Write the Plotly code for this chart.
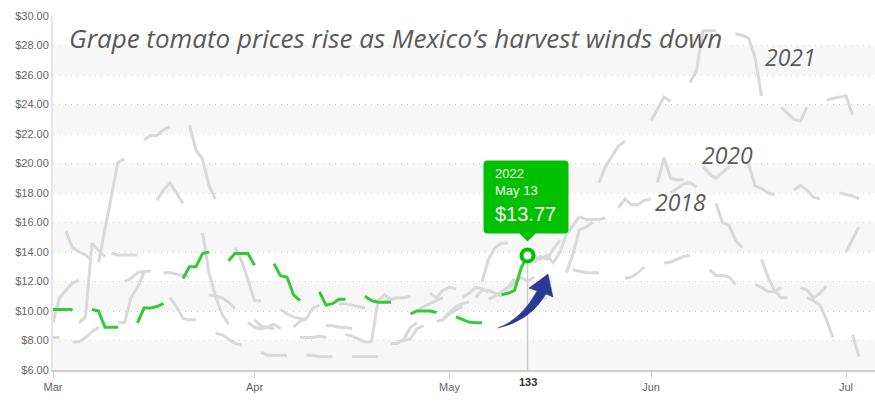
import pandas as pd
import plotly.graph_objects as go

# ---------------- data (weekday prices, $ per carton) ----------------
# each list = consecutive business days starting on the first weekday on/after Mar 1
prices_2018 = [
    8.2, 8.2,
    9.2, 9.6, 14.6, 14.1, 13.7,
    12.0, 12.2, 12.6, 12.7, 12.7,
    10.9, 10.3, 9.5, 9.4, 9.4,
    8.5, 8.4, 8.1, 7.8, 7.7,
    7.2, 7.0, 7.0, 7.0, 7.0,
    7.0, 7.0, 6.9, 6.9, 6.9,
    6.9, 6.9, 6.9, 6.9, 6.9,
    7.9, 8.0, 8.1, 8.8, 9.0,
    9.5, 9.9, 10.3, 10.5, 10.6,
    10.8, 11.0, 11.3, 11.6, 12.2,
    13.3, 13.7, 13.5, 14.2, 14.8,
    16.4, 16.2, 16.2, 16.2, 16.3,
    None, 17.2, 17.2, 17.5, 17.6,
    18.0, 18.3, 18.6, 18.7, 18.4,
    17.3, 16.0, 15.8, 14.8, 14.3,
    13.5, 12.3, 11.4, 10.9, 10.9,
    10.9, 10.7, 10.4, 9.4, 8.2,
    8.4, 6.9, None, 6.6,
]
prices_2019 = [
    8.2,
    7.9, 7.9, 8.2, 8.6, 8.9,
    9.2, 9.2, 10.9, 11.6, 12.6,
    12.6, 12.6, 12.5, 12.4, 12.3,
    11.1, 11.0, 10.9, 10.6, 10.2,
    9.4, 9.0, 8.9, 9.1, 8.8,
    8.2, 8.2, 8.2, 8.3, 8.2,
    8.4, 8.3, 8.1, 7.9, 7.9,
    7.8, 7.8, 8.1, 8.9, 9.2,
    9.3, 9.4, 9.8, 10.1, 10.3,
    12.0, 13.5, 14.3, 14.6, 14.6,
    14.0, 13.7, 13.5, 13.8, 13.2,
    12.8, 12.7, 12.6, 12.6, 12.6,
    None, 12.2, 12.3, 12.6, 13.0,
    13.25, 13.3, 13.5, 13.7, 13.8,
    12.8, 12.4, 12.4, 12.3, 11.8,
    11.8, 11.6, 11.3, 11.3, 11.6,
    11.6, 11.4, 10.9, 11.2, 11.7,
    14.0, 14.9, 15.7, None, 16.0,
]
prices_2020 = [
    15.4, 14.3, 14.0, 13.8, 13.4,
    13.9, 13.8, 13.8, 13.8, 13.8,
    17.5, 18.2, 18.7, 18.0, 17.3,
    15.3, 12.6, 11.0, 9.8, 9.1,
    9.2, 8.9, 8.8, 8.9, 8.8,
    8.9, 9.3, 9.5, 10.2, 10.4,
    10.5, 10.5, 10.4, 10.3, 10.2,
    10.6, 10.8, 10.9, 10.9, 11.0,
    11.2, 10.9, 11.4, 11.6, 11.5,
    10.9, 11.4, 11.4, 11.2, 11.0,
    9.6, 10.0, 10.5, 10.9, 10.9,
    12.6, 13.9, 15.5, 15.7, 16.0,
    None, 17.0, 17.6, 17.2, 17.2,
    18.7, 20.4, 19.0, 18.9, 18.9,
    19.8, 19.3, 19.0, 19.4, 19.8,
    20.0, 18.5, 18.3, 18.0, 17.9,
    18.2, 18.5, 18.2, 17.7, 17.6,
    18.0, 17.9, 17.8, 17.6, None,
]
prices_2021 = [
    9.2, 10.9, 11.4, 11.9, 12.1,
    13.3, 15.6, 18.0, 20.1, 20.3,
    21.6, 21.9, 21.9, 22.3, 22.5,
    22.6, 20.9, 20.3, 18.5, 17.6,
    14.3, 13.4, 12.1, 10.7, 10.7,
    10.1, 9.8, 9.6, 9.5, 9.4,
    9.0, 9.0, 8.9, 8.9, 8.8,
    7.9, 10.7, 11.1, 10.8, 10.9,
    10.0, 10.3, 10.5, 10.7, 10.9,
    10.9, 11.2, 11.6, 11.5, 11.3,
    11.5, 11.9, 12.3, 12.0, 12.3,
    13.3, 14.0, 15.2, 15.8, 16.4,
    18.7, 19.8, 20.5, 21.2, 21.5,
    None, 22.9, 23.7, 24.5, 24.2,
    25.5, 26.3, 29.0, 29.0, 29.0,
    28.8, 28.7, 28.5, 27.2, 24.6,
    23.8, 23.4, 23.0, 22.9, 23.8,
    24.3, 24.4, 24.5, 24.6, 23.3,
]
prices_2022 = [
    10.1, 10.1, 10.1, 10.1,
    10.1, 10.0, 8.9, 8.9, 8.9,
    9.2, 10.2, 10.2, 10.3, 10.5,
    12.2, 13.0, 13.0, 13.9, 14.0,
    13.4, 13.9, 13.9, 13.9, 13.1,
    13.2, 12.4, 12.3, 11.1, 10.7,
    11.3, 10.4, 10.5, 10.8, 10.8,
    11.0, 10.7, 10.6, 10.6, 10.6,
    9.8, 10.0, 10.0, 10.0, 9.9,
    9.6, 9.4, 9.25, 9.2, 9.2,
    11.1, 11.2, 11.4, 12.9, 13.77,
]
gray_years = [2018, 2019, 2020, 2021]
gray_prices = [prices_2018, prices_2019, prices_2020, prices_2021]
year_labels = ["2021", "2020", "2018"]
year_label_day = [173.4, 163.7, 156.5]
year_label_price = [27.2, 20.6, 17.4]

y_tick_vals = list(range(6, 31, 2))
y_tick_text = [f"${v:.2f}" for v in y_tick_vals]
month_days = [60, 91, 121, 152, 182]
month_labels = ["Mar", "Apr", "May", "Jun", "Jul"]
focus_year, focus_label, focus_day, focus_price = 2022, "May 13", 133, 13.77
title_text = "Grape tomato prices rise as Mexico’s harvest winds down"

# ---------------- layout constants ----------------
W, H = 875, 406
ML, MR, MT, MB = 53, 0, 16, 36
X_RANGE = [60, 186.46]
Y_RANGE = [6, 30]
PW, PH = W - ML - MR, H - MT - MB
GRAY = "#d9d9d9"
GREEN_LINE = "#36c936"
GREEN_BOX = "#00c000"
TEXT = "#666666"


def px2x(px):
    return X_RANGE[0] + (px - ML) * (X_RANGE[1] - X_RANGE[0]) / PW


def py2y(py):
    return Y_RANGE[0] + (H - MB - py) * (Y_RANGE[1] - Y_RANGE[0]) / PH


def x2px(x):
    return ML + (x - X_RANGE[0]) * PW / (X_RANGE[1] - X_RANGE[0])


def y2py(y):
    return H - MB - (y - Y_RANGE[0]) * PH / (Y_RANGE[1] - Y_RANGE[0])


def build(year, vals):
    dates = pd.bdate_range(f"{year}-03-01", periods=len(vals))
    xs, ys, prev = [], [], None
    for d, v in zip(dates, vals):
        if prev is not None and (d - prev).days > 1:
            xs.append(None)
            ys.append(None)
        xs.append(d.dayofyear)
        ys.append(v)
        prev = d
    return xs, ys


fig = go.Figure()

# crosshair
fig.add_shape(type="line", xref="x", yref="y", x0=focus_day, x1=focus_day,
              y0=Y_RANGE[0], y1=focus_price, line=dict(color="#cccccc", width=1.5), layer="below")

for yr, vals in zip(gray_years, gray_prices):
    xs, ys = build(yr, vals)
    fig.add_trace(go.Scatter(x=xs, y=ys, mode="lines", line=dict(color=GRAY, width=3),
                             hoverinfo="skip", connectgaps=False))

xs, ys = build(focus_year, prices_2022)
fig.add_trace(go.Scatter(x=xs, y=ys, mode="lines", line=dict(color=GREEN_LINE, width=3),
                         hoverinfo="skip", connectgaps=False))
fig.add_trace(go.Scatter(x=[focus_day], y=[focus_price], mode="markers",
                         marker=dict(size=12, color="white", line=dict(color=GREEN_BOX, width=4)),
                         hoverinfo="skip"))

# alternating bands
for lo in range(6, 30, 4):
    fig.add_shape(type="rect", xref="paper", yref="y", x0=0, x1=1, y0=lo, y1=lo + 2,
                  fillcolor="#f7f7f7", line=dict(width=0), layer="below")

# tooltip box (pixel geometry relative to the focus point)
cx, cy = x2px(focus_day), y2py(focus_price)
bl, br, bt, bb, r = cx - 44, cx + 41, cy - 95, cy - 22, 4
pts = [
    f"M {px2x(bl + r)},{py2y(bt)}",
    f"L {px2x(br - r)},{py2y(bt)}",
    f"Q {px2x(br)},{py2y(bt)} {px2x(br)},{py2y(bt + r)}",
    f"L {px2x(br)},{py2y(bb - r)}",
    f"Q {px2x(br)},{py2y(bb)} {px2x(br - r)},{py2y(bb)}",
    f"L {px2x(cx + 8)},{py2y(bb)}",
    f"L {px2x(cx)},{py2y(bb + 8)}",
    f"L {px2x(cx - 8)},{py2y(bb)}",
    f"L {px2x(bl + r)},{py2y(bb)}",
    f"Q {px2x(bl)},{py2y(bb)} {px2x(bl)},{py2y(bb - r)}",
    f"L {px2x(bl)},{py2y(bt + r)}",
    f"Q {px2x(bl)},{py2y(bt)} {px2x(bl + r)},{py2y(bt)} Z",
]
fig.add_shape(type="path", xref="x", yref="y", path=" ".join(pts),
              fillcolor=GREEN_BOX, line=dict(width=0), layer="above")
fig.add_annotation(x=px2x(bl + 9), y=py2y(bt + 4), xref="x", yref="y", xanchor="left", yanchor="top",
                   text=f"{focus_year}<br>{focus_label}", align="left", showarrow=False,
                   font=dict(family="Liberation Sans, Arial", size=13, color="white"))
fig.add_annotation(x=px2x(bl + 9), y=py2y(bt + 54), xref="x", yref="y", xanchor="left", yanchor="middle",
                   text=f"${focus_price:.2f}", showarrow=False,
                   font=dict(family="Liberation Sans, Arial", size=20, color="white"))

# curved arrow
arrow_px = [(498, 328), (522, 319), (537, 291), (529, 288), (548, 274), (553, 297), (546, 294), (530, 321)]
a = [(px2x(p[0]), py2y(p[1])) for p in arrow_px]
arrow_path = (f"M {a[0][0]},{a[0][1]} Q {a[1][0]},{a[1][1]} {a[2][0]},{a[2][1]} "
              f"L {a[3][0]},{a[3][1]} L {a[4][0]},{a[4][1]} L {a[5][0]},{a[5][1]} L {a[6][0]},{a[6][1]} "
              f"Q {a[7][0]},{a[7][1]} {a[0][0]},{a[0][1]} Z")
fig.add_shape(type="path", xref="x", yref="y", path=arrow_path,
              fillcolor="#2b3990", line=dict(color="#2b3990", width=0.5), layer="above")

# title & year labels
fig.add_annotation(x=(67 - ML) / PW, y=(H - MB - 38) / PH, xref="paper", yref="paper",
                   xanchor="left", yanchor="middle", text=title_text, showarrow=False,
                   font=dict(family="Open Sans", size=26, color="#5a5a5a", style="italic"))
for t, dx, dy in zip(year_labels, year_label_day, year_label_price):
    fig.add_annotation(x=dx, y=dy, xref="x", yref="y", text=t, showarrow=False,
                       font=dict(family="Open Sans", size=23, color="#5a5a5a", style="italic"))

fig.add_annotation(x=focus_day, y=-0.034, xref="x", yref="paper", yanchor="middle",
                   text=f"<b>{focus_day}</b>", showarrow=False,
                   font=dict(family="Liberation Sans, Arial", size=11, color="#333333"))

fig.update_layout(
    width=W, height=H, margin=dict(l=ML, r=MR, t=MT, b=MB, pad=0, autoexpand=False),
    plot_bgcolor="white", paper_bgcolor="white", showlegend=False,
    font=dict(family="Liberation Sans, Arial", size=11, color=TEXT),
    xaxis=dict(range=X_RANGE, tickvals=month_days, ticktext=month_labels, showgrid=False,
               zeroline=False, showline=True, linecolor="#cccccc", linewidth=1.5,
               ticks="outside", ticklen=6, tickcolor="#cccccc", automargin=False,
               tickfont=dict(size=11, color=TEXT)),
    yaxis=dict(range=Y_RANGE, tickvals=y_tick_vals, ticktext=y_tick_text, showgrid=True,
               gridcolor="#d0d0d0", griddash="1px,5px", gridwidth=1, zeroline=False,
               showline=True, linecolor="#e6e6e6", linewidth=2, ticks="", automargin=False,
               tickfont=dict(size=11, color=TEXT)),
)

fig.write_html("out.html", config={"displayModeBar": False},
               post_script="document.body.style.margin='0';document.body.style.overflow='hidden';")
